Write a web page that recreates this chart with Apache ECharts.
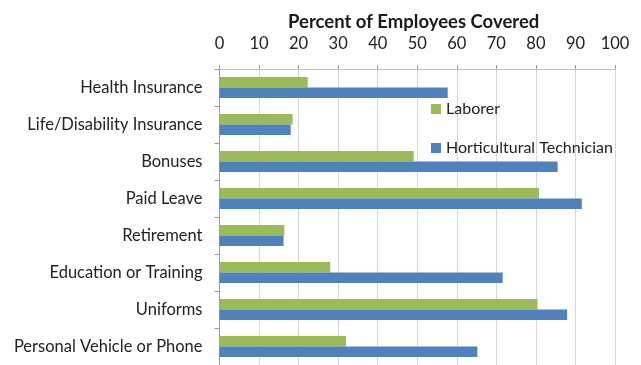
<!DOCTYPE html>
<html>
<head>
<meta charset="utf-8">
<script src="https://cdn.jsdelivr.net/npm/echarts@6/dist/echarts.min.js"></script>
<style>html,body{margin:0;padding:0;background:#fff;}#c{width:641px;height:365px;}</style>
</head>
<body>
<div id="c"></div>
<script>
const categories = ["Health Insurance","Life/Disability Insurance","Bonuses","Paid Leave","Retirement","Education or Training","Uniforms","Personal Vehicle or Phone"];
const laborer = [22.3, 18.5, 49.1, 80.8, 16.4, 28.0, 80.4, 32.0];
const technician = [57.7, 18.0, 85.5, 91.6, 16.2, 71.6, 87.9, 65.2];
const seriesNames = ["Laborer", "Horticultural Technician"];
const titleText = "Percent of Employees Covered";

const chart = echarts.init(document.getElementById('c'), null, {renderer: 'canvas'});
const font = 'Lato';
chart.setOption({
  animation: false,
  backgroundColor: '#fff',
  title: {
    text: titleText, left: 283, top: 8,
    textStyle: {fontFamily: font, fontSize: 18.5, fontWeight: 'bold', color: '#1a1a1a'}
  },
  legend: {
    data: seriesNames, orient: 'vertical', left: 426, top: 96,
    itemGap: 23, itemWidth: 10, itemHeight: 10, icon: 'rect',
    textStyle: {fontFamily: font, fontSize: 16, color: '#222'}
  },
  grid: {left: 219.5, right: 26, top: 69, bottom: -3.4, containLabel: false},
  xAxis: {
    type: 'value', position: 'top', min: 0, max: 100, interval: 10,
    axisLine: {show: true, lineStyle: {color: '#bdbdbd'}},
    axisTick: {show: true, length: 4, lineStyle: {color: '#9a9a9a'}},
    axisLabel: {fontFamily: font, fontSize: 16.5, color: '#222', margin: 17},
    splitLine: {show: true, lineStyle: {color: '#d6d6d6'}}
  },
  yAxis: {
    type: 'category', data: categories, inverse: true,
    axisLine: {show: true, lineStyle: {color: '#9a9a9a'}},
    axisTick: {show: true, length: 5, lineStyle: {color: '#9a9a9a'}},
    axisLabel: {fontFamily: font, fontSize: 16.5, color: '#222', margin: 17}
  },
  series: [
    {name: seriesNames[0], type: 'bar', data: laborer, itemStyle: {color: '#9BBB59'}, barGap: '0%', barCategoryGap: '43%'},
    {name: seriesNames[1], type: 'bar', data: technician, itemStyle: {color: '#4F81BD'}, barGap: '0%', barCategoryGap: '43%'}
  ]
});
</script>
</body>
</html>
